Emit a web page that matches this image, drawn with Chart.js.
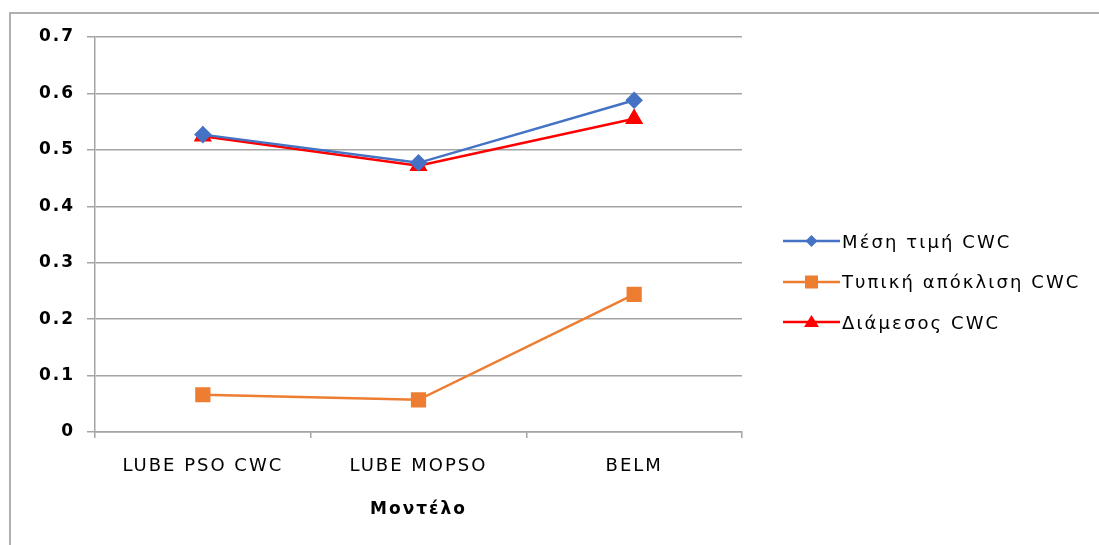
<!DOCTYPE html>
<html>
<head>
<meta charset="utf-8">
<script src="https://cdn.jsdelivr.net/npm/chart.js@4"></script>
<style>
  html, body { margin: 0; padding: 0; background: #fff; }
  #wrap { position: relative; width: 1099px; height: 545px; }
  #frame {
    position: absolute; left: 9px; top: 12px; right: 0; bottom: 0;
    border-left: 2px solid #b0b0b0; border-top: 2px solid #b0b0b0;
    pointer-events: none;
  }
  #legend { position: absolute; left: 783px; top: 221px; }
  #legend .row { display: flex; align-items: center; height: 40.5px; }
  #legend canvas { display: block; margin-right: 2px; }
  #legend span {
    font-family: 'DejaVu Sans'; font-size: 18px; letter-spacing: 2.1px;
    color: #000; white-space: nowrap;
  }
</style>
</head>
<body>
<div id="wrap">
  <canvas id="chart" width="1099" height="545"></canvas>
  <div id="legend"></div>
  <div id="frame"></div>
</div>
<script>
const models = ['LUBE PSO CWC', 'LUBE MOPSO', 'BELM']
const meanCwc = [0.527, 0.477, 0.588]
const stdCwc = [0.066, 0.057, 0.244]
const medianCwc = [0.524, 0.472, 0.555]
const seriesNames = ['Μέση τιμή CWC', 'Τυπική απόκλιση CWC', 'Διάμεσος CWC']
const yTicks = [0, 0.1, 0.2, 0.3, 0.4, 0.5, 0.6, 0.7]

const BLUE = '#4472C4'
const ORANGE = '#ED7D31'
const RED = '#FF0000'
const GRID = '#a4a4a4'

const tickFont = { family: 'DejaVu Sans', size: 17, weight: 'bold' }
const labelFont = { family: 'DejaVu Sans', size: 18 }

// the original text is drawn wide, so space the letters out a bit
const spacing = {
  id: 'spacing',
  beforeUpdate: chart => { chart.ctx.letterSpacing = '2px' },
  beforeDraw: chart => { chart.ctx.letterSpacing = '2px' }
}

// legend glyph: short line with the series marker in its middle
function glyph(color, shape) {
  const c = document.createElement('canvas')
  c.width = 57
  c.height = 18
  const g = c.getContext('2d')
  const cx = 28.5, cy = 9
  g.strokeStyle = color
  g.lineWidth = 2.5
  g.beginPath(); g.moveTo(0, cy); g.lineTo(57, cy); g.stroke()
  g.fillStyle = color
  g.beginPath()
  if (shape === 'rectRot') {
    g.moveTo(cx, cy - 6); g.lineTo(cx + 6, cy); g.lineTo(cx, cy + 6); g.lineTo(cx - 6, cy)
  } else if (shape === 'rect') {
    g.rect(cx - 6.5, cy - 6.5, 13, 13)
  } else {
    g.moveTo(cx, cy - 7); g.lineTo(cx + 7.5, cy + 5); g.lineTo(cx - 7.5, cy + 5)
  }
  g.closePath(); g.fill()
  return c
}

const htmlLegend = {
  id: 'htmlLegend',
  afterUpdate: chart => {
    const box = document.getElementById('legend')
    box.innerHTML = ''
    chart.data.datasets.forEach(ds => {
      const row = document.createElement('div')
      row.className = 'row'
      row.appendChild(glyph(ds.borderColor, ds.pointStyle))
      const txt = document.createElement('span')
      txt.textContent = ds.label
      row.appendChild(txt)
      box.appendChild(row)
    })
  }
}

new Chart(document.getElementById('chart'), {
  type: 'line',
  data: {
    labels: models,
    datasets: [{
      label: seriesNames[0],
      data: meanCwc,
      borderColor: BLUE,
      backgroundColor: BLUE,
      borderWidth: 2.5,
      pointStyle: 'rectRot',
      pointRadius: 7,
      pointHoverRadius: 7
    }, {
      label: seriesNames[1],
      data: stdCwc,
      borderColor: ORANGE,
      backgroundColor: ORANGE,
      borderWidth: 2.5,
      pointStyle: 'rect',
      pointRadius: 9,
      pointHoverRadius: 9
    }, {
      label: seriesNames[2],
      data: medianCwc,
      borderColor: RED,
      backgroundColor: RED,
      borderWidth: 2.5,
      pointStyle: 'triangle',
      pointRadius: 8,
      pointHoverRadius: 8
    }]
  },
  plugins: [spacing, htmlLegend],
  options: {
    responsive: false,
    animation: false,
    layout: { padding: { top: 37, right: 357, bottom: 0, left: 0 } },
    plugins: {
      tooltip: { enabled: false },
      legend: { display: false }
    },
    scales: {
      x: {
        offset: true,
        grid: {
          offset: true,
          drawOnChartArea: false,
          drawTicks: true,
          tickLength: 6,
          color: GRID,
          lineWidth: 1.5
        },
        border: { color: GRID, width: 1.5 },
        ticks: { color: '#000', font: labelFont, padding: 18, maxRotation: 0 },
        title: {
          display: true,
          text: 'Μοντέλο',
          color: '#000',
          font: { family: 'DejaVu Sans', size: 17, weight: 'bold' },
          padding: { top: 4, bottom: 25 }
        },
        afterFit: s => { s.height = 113 }
      },
      y: {
        min: 0,
        max: 0.7,
        afterBuildTicks: s => { s.ticks = yTicks.map(v => ({ value: v })) },
        grid: { color: GRID, lineWidth: 1.5, tickLength: 8 },
        border: { color: GRID, width: 1.5 },
        ticks: {
          color: '#000',
          font: tickFont,
          padding: 12,
          callback: v => String(Math.round(v * 10) / 10)
        },
        afterFit: s => { s.width = 95 }
      }
    }
  }
})
</script>
</body>
</html>
